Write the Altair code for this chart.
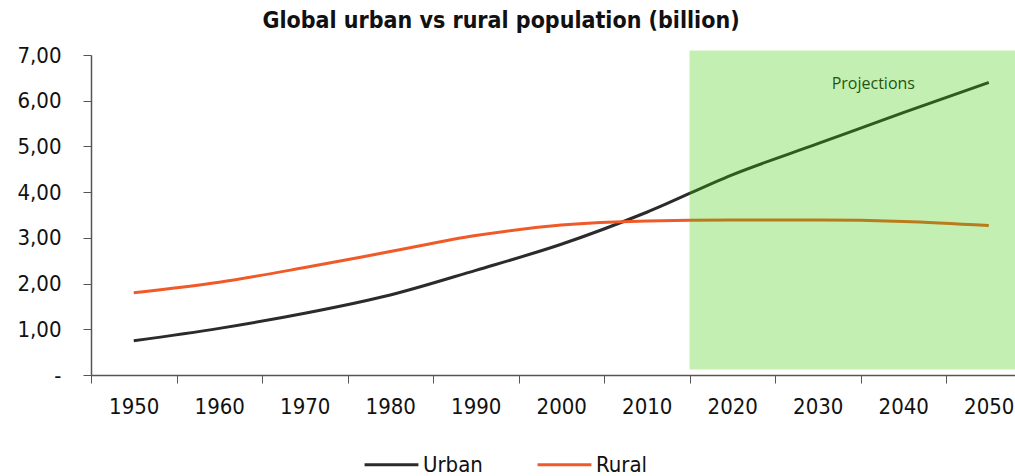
import altair as alt
import pandas as pd

years = [1950, 1960, 1970, 1980, 1990, 2000, 2010, 2020, 2030, 2040, 2050]
urban = [0.75, 1.02, 1.35, 1.75, 2.29, 2.86, 3.56, 4.38, 5.06, 5.74, 6.40]
rural = [1.80, 2.03, 2.35, 2.70, 3.05, 3.28, 3.37, 3.39, 3.39, 3.36, 3.27]
series_names = ["Urban", "Rural"]
series_colors = ["#2b2b2b", "#f05a28"]

tick_years = [1945, 1955, 1965, 1975, 1985, 1995, 2005, 2015, 2025, 2035, 2045, 2055]
proj_start, proj_end = 2015, 2060
shade_bottom, shade_top = 0.12, 7.1
proj_label = "Projections"
proj_label_year, proj_label_value = 2036.5, 6.37

FONT = "DejaVu Sans Condensed"

rows = []
for y, u, r in zip(years, urban, rural):
    rows.append({"year": y, "series": "Urban", "value": u})
    rows.append({"year": y, "series": "Rural", "value": r})
df = pd.DataFrame(rows)

xscale = alt.Scale(domain=[1945, 2055], range=[0, 940.5], nice=False, zero=False)
yscale = alt.Scale(domain=[0, 7], nice=False)

x_axis = alt.Axis(
    values=tick_years, title=None, labelExpr="datum.value < 2050 ? toString(datum.value + 5) : ''",
    labelOffset=42.75, labelFlush=False, labelOverlap=False, tickSize=8, labelPadding=13,
    labelFontSize=22, labelFont=FONT,
    labelColor="#111", domainColor="#555", tickColor="#555", grid=False, domainWidth=1.5,
)
y_axis = alt.Axis(
    values=[0, 1, 2, 3, 4, 5, 6, 7], title=None,
    labelExpr="datum.value == 0 ? '-' : replace(format(datum.value, '.2f'), '.', ',')",
    tickSize=8, labelPadding=22, labelFontSize=22, labelFont=FONT, labelColor="#111",
    labelFlush=False, domainColor="#555", tickColor="#555", grid=False, domainWidth=1.5,
)

lines = alt.Chart(df).mark_line(strokeWidth=3, interpolate="monotone").encode(
    x=alt.X("year:Q", scale=xscale, axis=x_axis),
    y=alt.Y("value:Q", scale=yscale, axis=y_axis),
    color=alt.Color(
        "series:N",
        scale=alt.Scale(domain=series_names, range=series_colors),
        sort=series_names,
        legend=alt.Legend(
            title=None, orient="none", legendX=272, legendY=381, direction="horizontal",
            symbolType="stroke", symbolSize=2900, symbolStrokeWidth=3,
            labelFontSize=22, labelFont=FONT, labelColor="#111", columnPadding=48, labelOffset=3,
        ),
    ),
)

label_df = pd.DataFrame({"year": [proj_label_year], "value": [proj_label_value], "text": [proj_label]})
label = alt.Chart(label_df).mark_text(fontSize=16, font="Open Sans", color="#1a1a1a").encode(
    x=alt.X("year:Q", scale=xscale), y=alt.Y("value:Q", scale=yscale), text="text:N",
)

shade_df = pd.DataFrame({"x": [proj_start], "x2": [proj_end], "y": [shade_bottom], "y2": [shade_top]})
shade = alt.Chart(shade_df).mark_rect(color="#37cd00", opacity=0.3).encode(
    x=alt.X("x:Q", scale=xscale), x2="x2:Q",
    y=alt.Y("y:Q", scale=yscale), y2="y2:Q",
)

chart = alt.layer(lines, label, shade).properties(
    width=924, height=320,
    background="white",
    title=alt.TitleParams("Global urban vs rural population (billion)", fontSize=23, font=FONT,
                          fontWeight="bold", color="#111", anchor="middle", dx=-52, offset=11),
    autosize=alt.AutoSizeParams(type="none"),
    padding={"left": 91, "top": 55, "right": 0, "bottom": 101},
).configure_view(stroke="transparent", strokeWidth=0)

chart.save("out.html", embed_options={"renderer": "svg", "actions": False})
